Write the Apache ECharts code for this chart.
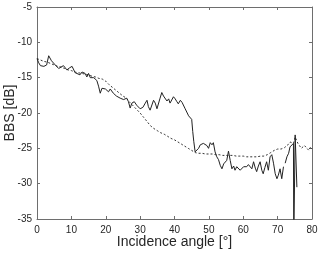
<!DOCTYPE html>
<html><head><meta charset="utf-8">
<script src="https://cdn.jsdelivr.net/npm/echarts@6/dist/echarts.min.js"></script>
<style>html,body{margin:0;padding:0;background:#fff}#c{width:318px;height:254px}</style>
</head><body><div id="c"></div>
<script>
var measuredAngles = [0,0.5,1,2,2.8,3.4,4.2,5.3,6.3,7.7,8.7,9.5,10.2,11.1,11.6,12.5,13.1,14,14.5,15,15.5,16.5,17.4,17.9,18.4,18.9,19.9,20.8,21.3,22.2,23.1,24.2,25.2,26.1,26.6,27.1,27.6,28.3,29,30,30.8,31.5,32,32.4,32.9,33.9,34.4,34.9,35.8,36.3,36.8,37.3,37.8,38.3,38.7,39.7,40.2,40.7,41.1,41.7,42.2,42.6,43.1,43.6,44.1,44.6,45,45.3,45.6,46,46.5,47,47.5,48.4,48.9,49.4,49.9,50.4,50.9,51.3,51.8,52.3,52.8,53.3,53.8,54.3,55.2,55.7,56.2,56.7,57.2,57.6,58.1,58.6,59.1,60.1,61,61.5,62,62.5,63,63.5,63.9,64.4,64.9,65.4,65.8,66.3,66.8,67.3,67.8,68.3,68.8,69.3,69.8,70.2,70.7,71.2,71.7,71.9,72.2,72.7,73.2,73.6,74.1,74.6,74.7,75.1,75.6];
var measuredBBS = [-12.3,-12.9,-13.3,-13.4,-13.2,-11.9,-12.6,-13.2,-13.7,-13.3,-13.9,-13.6,-13.4,-14.3,-14.1,-14.6,-14.2,-14.4,-14.9,-14.4,-15.0,-15.0,-15.4,-16.2,-17.2,-16.5,-16.6,-17.0,-16.6,-17.2,-17.6,-17.9,-18.1,-17.9,-18.4,-19.3,-18.6,-18.4,-18.9,-19.4,-19.2,-18.6,-18.2,-19.1,-19.6,-18.2,-18.6,-19.4,-17.9,-17.1,-17.6,-17.7,-18.3,-18.0,-18.6,-17.7,-18.0,-18.4,-18.7,-18.2,-18.5,-18.7,-19.4,-19.6,-20.4,-20.6,-20.9,-22.6,-24.0,-25.5,-25.5,-25.0,-24.5,-24.3,-24.1,-24.6,-25.0,-24.2,-24.5,-24.2,-25.5,-26.2,-26.6,-27.4,-27.9,-27.2,-26.7,-25.4,-26.7,-27.9,-27.5,-28.1,-27.6,-27.6,-28.1,-27.6,-27.6,-27.3,-27.2,-27.9,-26.9,-27.8,-28.3,-27.5,-26.9,-28.1,-28.6,-27.7,-26.9,-28.1,-26.2,-25.9,-27.1,-28.6,-29.3,-28.8,-27.9,-29.3,-27.6,null,-27.1,-26.2,-25.7,-24.8,-25.0,-24.3,-38,-23.1,-30.5];
var modelAngles = [0,1,2,3,4,5,6,7,8,9,10,11,12,13,14,15,16,17,18,19,20,21,22,23,24,25,26,27,28,29,30,31,32,33,34,35,36,37,38,39,40,41,42,43,44,45,46,47,48,49,50,51,52,53,54,55,56,57,58,59,60,61,62,63,64,65,66,67,68,69,70,71,72,73,73.6,74.6,75.1,75.9,76.9,77.8,79.1,79.6,80];
var modelBBS = [-12.3,-12.5,-12.7,-12.8,-13.0,-13.2,-13.4,-13.5,-13.7,-13.9,-14.0,-14.2,-14.3,-14.4,-14.5,-14.6,-14.8,-14.9,-15.1,-15.2,-15.5,-16.0,-16.4,-16.8,-17.2,-17.6,-17.9,-18.5,-19.0,-19.5,-20.0,-20.6,-21.2,-21.8,-22.2,-22.5,-22.8,-23.0,-23.3,-23.6,-23.8,-24.1,-24.4,-24.7,-25.0,-25.3,-25.6,-25.7,-25.7,-25.8,-25.8,-25.8,-25.9,-25.9,-26.0,-26.0,-26.0,-26.0,-26.1,-26.1,-26.1,-26.2,-26.2,-26.2,-26.2,-26.1,-26.1,-25.9,-25.6,-25.3,-25.1,-25.1,-24.9,-24.5,-24.1,-24.3,-23.4,-24.3,-25.0,-24.6,-25.3,-24.8,-25.1];
var xTicks = [0,10,20,30,40,50,60,70,80];
var yTicks = [-35,-30,-25,-20,-15,-10,-5];

function pairs(xs, ys){ return xs.map(function(x,i){ return [x, ys[i]]; }); }

var axisColor = '#6e6e6e';
var labelColor = '#262626';
var chart = echarts.init(document.getElementById('c'));
var common = {
  min: 0, max: 80, interval: 10,
  axisLine: {show: true, onZero: false, lineStyle: {color: axisColor, width: 1}},
  axisTick: {show: true, inside: true, length: 3, lineStyle: {color: axisColor}},
  splitLine: {show: false}
};
chart.setOption({
  animation: false,
  grid: {left: 37, right: 6, top: 7, bottom: 35, containLabel: false, outerBoundsMode: 'none'},
  xAxis: [
    Object.assign({type: 'value', position: 'bottom',
      name: 'Incidence angle [°]', nameLocation: 'middle', nameGap: 16, nameMoveOverlap: false,
      nameTextStyle: {fontFamily: 'Liberation Sans, Arial', fontSize: 14, color: labelColor},
      axisLabel: {fontFamily: 'Liberation Sans, Arial', fontSize: 10, color: labelColor, margin: 6,
        formatter: function(v){ return xTicks.indexOf(v) >= 0 ? String(v) : ''; }}
    }, common),
    Object.assign({type: 'value', position: 'top', axisLabel: {show: false}}, common)
  ],
  yAxis: [
    {type: 'value', position: 'left', min: -35, max: -5, interval: 5,
      name: 'BBS [dB]', nameLocation: 'middle', nameGap: 20, nameMoveOverlap: false,
      nameTextStyle: {fontFamily: 'Liberation Sans, Arial', fontSize: 14, color: labelColor},
      axisLine: {show: true, onZero: false, lineStyle: {color: axisColor, width: 1}},
      axisTick: {show: true, inside: true, length: 3, lineStyle: {color: axisColor}},
      axisLabel: {fontFamily: 'Liberation Sans, Arial', fontSize: 10, color: labelColor, margin: 5,
        formatter: function(v){ return yTicks.indexOf(v) >= 0 ? String(v) : ''; }},
      splitLine: {show: false}},
    {type: 'value', position: 'right', min: -35, max: -5, interval: 5,
      axisLine: {show: true, onZero: false, lineStyle: {color: axisColor, width: 1}},
      axisTick: {show: true, inside: true, length: 3, lineStyle: {color: axisColor}},
      axisLabel: {show: false}, splitLine: {show: false}}
  ],
  series: [
    {type: 'line', xAxisIndex: 0, yAxisIndex: 0, data: pairs(modelAngles, modelBBS),
      showSymbol: false, symbol: 'none', clip: true, connectNulls: false,
      lineStyle: {color: '#333', width: 1, type: [2, 2]}},
    {type: 'line', xAxisIndex: 0, yAxisIndex: 0, data: pairs(measuredAngles, measuredBBS),
      showSymbol: false, symbol: 'none', clip: true, connectNulls: false,
      lineStyle: {color: '#222', width: 1}}
  ]
});
</script></body></html>
